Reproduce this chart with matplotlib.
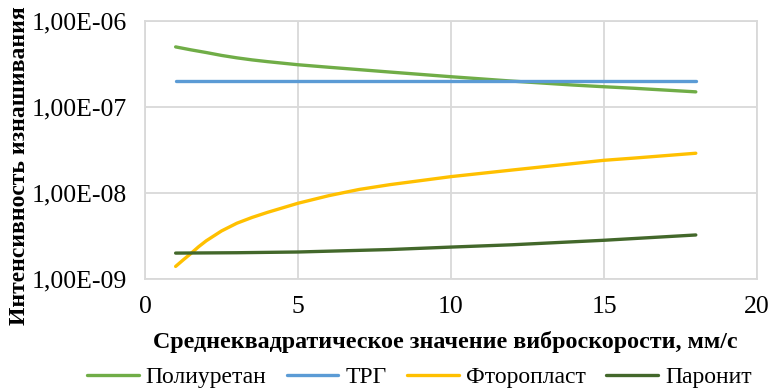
import matplotlib
matplotlib.use('Agg')
import matplotlib.pyplot as plt

# values
x_poly = [1, 1.5, 2, 2.5, 3, 3.5, 4, 5, 6, 8, 10, 12, 14, 15, 16, 18]
poliuretan = [5.0e-7, 4.62e-7, 4.3e-7, 3.98e-7, 3.73e-7, 3.53e-7, 3.37e-7, 3.1e-7,
              2.9e-7, 2.55e-7, 2.25e-7, 2.0e-7, 1.8e-7, 1.72e-7, 1.65e-7, 1.5e-7]

x_trg = [1, 18]
trg = [2.0e-7, 2.0e-7]

x_ftor = [1, 1.25, 1.5, 1.75, 2, 2.5, 3, 3.5, 4, 5, 6, 7, 8, 10, 12, 14, 15, 16, 18]
ftoroplast = [1.4e-9, 1.67e-9, 1.98e-9, 2.37e-9, 2.78e-9, 3.62e-9, 4.45e-9, 5.2e-9,
              5.95e-9, 7.6e-9, 9.3e-9, 1.1e-8, 1.25e-8, 1.55e-8, 1.85e-8, 2.2e-8,
              2.4e-8, 2.55e-8, 2.9e-8]

x_paro = [1, 3, 5, 8, 10, 12, 15, 18]
paronit = [2.0e-9, 2.02e-9, 2.06e-9, 2.2e-9, 2.35e-9, 2.5e-9, 2.82e-9, 3.25e-9]

y_ticks = [1e-9, 1e-8, 1e-7, 1e-6]
y_tick_labels = ['1,00E-09', '1,00E-08', '1,00E-07', '1,00E-06']
x_ticks = [0, 5, 10, 15, 20]

plt.rcParams['font.family'] = ['Liberation Serif', 'DejaVu Serif']

fig = plt.figure(figsize=(7.69, 3.92), dpi=100)
ax = fig.add_axes([0.1886, 0.2883, 0.7958, 0.6581])

style = dict(lw=2.4, solid_capstyle='round', solid_joinstyle='round')
ax.plot(x_poly, poliuretan, color='#70AD47', label='Полиуретан', **style)
ax.plot(x_trg, trg, color='#5B9BD5', label='ТРГ', **style)
ax.plot(x_ftor, ftoroplast, color='#FFC000', label='Фторопласт', **style)
ax.plot(x_paro, paronit, color='#43682B', label='Паронит', **style)

ax.set_yscale('log')
ax.set_ylim(1e-9, 1e-6)
ax.set_xlim(0, 20)
ax.set_yticks(y_ticks)
ax.set_yticklabels(y_tick_labels)
ax.minorticks_off()
ax.set_xticks(x_ticks)
ax.tick_params(axis='both', length=0, labelsize=18.5, colors='black')
ax.tick_params(axis='x', pad=12)
ax.tick_params(axis='y', pad=13)

ax.grid(True, color='#D9D9D9', lw=1.3)
ax.set_axisbelow(True)
for sp in ax.spines.values():
    sp.set_color('#D9D9D9')
    sp.set_linewidth(1.3)

ax.set_xlabel('Среднеквадратическое значение виброскорости, мм/с',
              fontsize=17.3, fontweight='bold')
ax.xaxis.set_label_coords(0.49, -0.2)
fig.text(20 / 769, 1 - 166 / 392, 'Интенсивность изнашивания', rotation=90,
         ha='center', va='center', fontsize=17, fontweight='bold')

fig.legend(loc='center', bbox_to_anchor=(0.545, 0.038), ncol=4, frameon=False,
           fontsize=17, handlelength=2.2, columnspacing=0.85, handletextpad=0.3)

fig.savefig('out.png', dpi=100)
